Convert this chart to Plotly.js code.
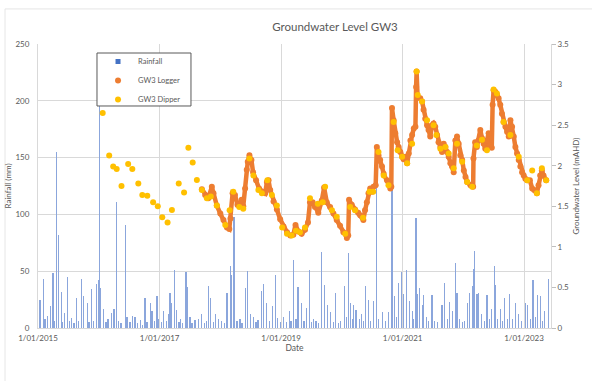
<!DOCTYPE html>
<html>
<head>
<meta charset="utf-8">
<script src="https://cdn.plot.ly/plotly-3.0.1.min.js"></script>
<style>html,body{margin:0;padding:0;background:#fff;}#chart{width:592px;height:381px;}</style>
</head>
<body>
<div id="chart"></div>
<script>
// Rainfall (mm), daily events
const rainDates = ["2015-01-13","2015-02-02","2015-02-12","2015-02-28","2015-03-16","2015-04-01","2015-04-12","2015-04-22","2015-05-02","2015-05-22","2015-05-30","2015-06-11","2015-06-29","2015-07-11","2015-07-21","2015-08-05","2015-08-21","2015-09-04","2015-09-20","2015-10-04","2015-10-24","2015-11-04","2015-11-20","2015-12-03","2015-12-20","2015-12-29",
"2016-01-05","2016-01-13","2016-01-29","2016-02-14","2016-02-26","2016-03-19","2016-04-02","2016-04-18","2016-05-01","2016-05-14","2016-06-08","2016-06-19","2016-07-07","2016-07-21","2016-08-06","2016-08-19","2016-09-06","2016-09-18","2016-10-05","2016-10-17","2016-11-05","2016-11-16","2016-11-29","2016-12-16","2016-12-23",
"2017-01-10","2017-01-25","2017-02-10","2017-02-24","2017-03-05","2017-03-15","2017-03-31","2017-04-14","2017-04-28","2017-05-09","2017-05-21","2017-06-09","2017-06-19","2017-07-03","2017-07-15","2017-08-02","2017-08-22","2017-09-12","2017-09-26","2017-10-08","2017-10-21","2017-11-01","2017-11-19","2017-12-05","2017-12-21",
"2018-01-10","2018-01-25","2018-02-10","2018-03-01","2018-03-11","2018-03-24","2018-04-11","2018-04-29","2018-05-11","2018-05-30","2018-06-15","2018-06-29","2018-07-19","2018-08-04","2018-08-16","2018-09-04","2018-09-18","2018-10-08","2018-10-22","2018-11-11","2018-11-27","2018-12-09","2018-12-27",
"2019-01-16","2019-02-02","2019-02-19","2019-03-02","2019-03-16","2019-04-01","2019-04-13","2019-05-05","2019-05-19","2019-06-04","2019-06-20","2019-07-01","2019-07-14","2019-07-30","2019-08-12","2019-08-30","2019-09-19","2019-10-09","2019-10-27","2019-11-11","2019-11-26","2019-12-11","2019-12-23",
"2020-01-18","2020-01-28","2020-02-11","2020-02-21","2020-03-04","2020-03-11","2020-03-27","2020-04-15","2020-04-30","2020-05-09","2020-05-24","2020-06-10","2020-06-20","2020-07-09","2020-07-26","2020-08-08","2020-08-31","2020-09-19","2020-10-08","2020-10-29","2020-11-12","2020-11-24","2020-12-08","2020-12-24",
"2021-01-07","2021-01-24","2021-02-13","2021-02-27","2021-03-06","2021-03-22","2021-03-30","2021-04-11","2021-04-29","2021-05-07","2021-05-23","2021-06-04","2021-06-27","2021-07-10","2021-07-28","2021-08-26","2021-09-11","2021-09-27","2021-10-11","2021-10-27","2021-11-14","2021-11-24","2021-12-08","2021-12-25",
"2022-01-08","2022-01-24","2022-02-09","2022-02-23","2022-03-04","2022-03-10","2022-03-24","2022-04-03","2022-04-19","2022-05-07","2022-05-23","2022-06-06","2022-06-18","2022-07-06","2022-07-12","2022-07-24","2022-08-11","2022-08-23","2022-09-04","2022-09-23","2022-10-06","2022-10-23","2022-11-09","2022-11-29","2022-12-16",
"2023-01-09","2023-01-23","2023-02-09","2023-02-24","2023-03-09","2023-03-23","2023-04-12","2023-04-20","2023-05-04","2023-05-28"];
const rainMm = [25,43,8,11,19,48,6,155,82,32,5,13,45,6,9,4,26,6,43,28,22,5,34,6,39,42,
200,35,17,5,8,13,17,111,6,4,91,10,5,11,10,4,7,3,26,5,22,15,6,28,8,
5,15,6,12,31,22,51,16,5,8,4,49,36,10,4,7,8,12,4,6,37,26,5,12,8,
6,4,31,55,47,98,6,8,4,35,50,12,10,5,7,33,39,22,6,19,47,9,5,
10,5,15,6,60,8,36,22,6,18,51,5,8,6,4,67,38,20,14,5,31,4,6,
37,10,66,22,8,20,16,8,12,6,37,25,6,24,133,8,14,6,14,133,28,10,40,49,
30,51,24,15,8,97,30,35,20,29,10,6,29,6,5,20,40,8,23,15,57,31,8,5,
6,22,31,37,52,68,30,31,12,6,29,8,17,55,38,8,17,6,26,8,30,8,22,12,6,
22,20,8,42,10,29,28,6,15,43];

// GW3 Logger (mAHD)
const loggerDates = ["2017-09-12","2017-10-02","2017-10-21","2017-11-11","2017-11-21","2017-12-11","2018-01-01","2018-01-20","2018-02-10","2018-02-24","2018-03-03","2018-03-16","2018-03-30","2018-04-14","2018-04-29","2018-05-09","2018-05-19","2018-05-30","2018-06-09","2018-06-15","2018-06-25","2018-07-07","2018-07-17","2018-08-04","2018-08-22","2018-09-13","2018-09-28","2018-10-08","2018-10-18","2018-10-28","2018-11-17","2018-12-07","2018-12-27",
"2019-01-16","2019-02-06","2019-02-26","2019-03-16","2019-03-29","2019-04-15","2019-05-05","2019-05-25","2019-06-12","2019-06-24","2019-07-10","2019-07-24","2019-08-13","2019-09-03","2019-09-17","2019-10-03","2019-10-23","2019-11-12","2019-12-02","2019-12-22",
"2020-01-11","2020-02-01","2020-02-09","2020-02-14","2020-03-01","2020-03-21","2020-04-09","2020-04-21","2020-05-10","2020-05-20","2020-05-31","2020-06-10","2020-06-20","2020-07-01","2020-07-10","2020-07-23","2020-07-30","2020-08-09","2020-08-19","2020-08-30","2020-09-09","2020-09-29","2020-10-19","2020-10-25","2020-10-29","2020-11-08","2020-11-18","2020-11-29","2020-12-08","2020-12-18","2020-12-29",
"2021-01-07","2021-01-18","2021-01-28","2021-02-07","2021-02-17","2021-02-27","2021-03-09","2021-03-19","2021-03-23","2021-03-26","2021-04-01","2021-04-17","2021-04-28","2021-05-07","2021-05-17","2021-05-28","2021-06-06","2021-06-16","2021-06-27","2021-07-06","2021-07-16","2021-07-27","2021-08-05","2021-08-16","2021-08-26","2021-09-05","2021-09-15","2021-09-25","2021-10-05","2021-10-15","2021-10-25","2021-11-04","2021-11-14","2021-11-24","2021-12-04","2021-12-14","2021-12-25",
"2022-01-04","2022-01-14","2022-01-24","2022-02-13","2022-03-01","2022-03-03","2022-03-13","2022-03-23","2022-04-02","2022-04-13","2022-04-23","2022-05-03","2022-05-13","2022-05-23","2022-06-02","2022-06-12","2022-06-21","2022-06-26","2022-07-02","2022-07-12","2022-07-22","2022-08-01","2022-08-11","2022-08-21","2022-08-31","2022-09-11","2022-09-21","2022-10-01","2022-10-11","2022-10-21","2022-10-31","2022-11-10","2022-11-20","2022-11-30","2022-12-10","2022-12-20","2022-12-30",
"2023-01-09","2023-01-20","2023-02-05","2023-02-19","2023-03-03","2023-03-19","2023-03-29","2023-04-08","2023-04-18","2023-04-28","2023-05-14"];
const loggerLevel = [1.71,1.64,1.60,1.74,1.66,1.51,1.41,1.33,1.24,1.22,1.35,1.66,1.64,1.52,1.53,1.58,1.50,1.72,1.95,2.05,2.13,2.07,1.92,1.82,1.72,1.68,1.66,1.80,1.82,1.70,1.56,1.46,1.34,
1.25,1.18,1.14,1.15,1.27,1.19,1.16,1.21,1.30,1.55,1.55,1.49,1.42,1.57,1.73,1.55,1.49,1.41,1.33,1.26,
1.18,1.11,1.14,1.58,1.52,1.46,1.42,1.39,1.33,1.45,1.55,1.66,1.72,1.68,1.74,1.76,2.23,2.13,2.07,1.99,1.90,1.82,1.72,1.74,2.71,2.56,2.40,2.29,2.23,2.17,2.11,
2.08,2.11,2.03,2.15,2.31,2.38,2.46,2.48,2.97,3.16,2.85,2.83,2.79,2.69,2.58,2.50,2.44,2.36,2.50,2.52,2.48,2.38,2.29,2.23,2.17,2.27,2.23,2.17,2.11,2.03,1.99,1.92,2.31,2.36,2.27,2.13,2.07,
1.94,1.86,1.80,1.76,1.74,2.09,2.29,2.23,2.31,2.44,2.34,2.27,2.21,2.31,2.40,2.25,2.22,2.75,2.93,2.91,2.87,2.83,2.75,2.64,2.54,2.48,2.42,2.36,2.56,2.48,2.36,2.23,2.15,2.07,1.99,1.92,1.88,
1.84,1.82,1.82,1.72,1.70,1.66,1.76,1.88,1.94,1.88,1.82];

// GW3 Dipper (mAHD)
const dipperDates = ["2016-01-25","2016-03-04","2016-03-28","2016-04-18","2016-05-17","2016-06-26","2016-07-21","2016-08-26","2016-09-19","2016-10-19","2016-11-23","2016-12-21",
"2017-01-17","2017-02-18","2017-03-16","2017-04-26","2017-05-28","2017-06-23","2017-07-19","2017-08-13","2017-09-12","2017-10-12","2017-11-05","2017-12-11",
"2018-01-31","2018-02-26","2018-03-20","2018-04-25","2018-05-19","2018-06-25","2018-07-19","2018-08-18","2018-09-08","2018-10-11","2018-11-07","2018-12-07",
"2019-01-08","2019-02-06","2019-03-06","2019-04-01","2019-04-25","2019-05-25","2019-06-24","2019-08-10","2019-09-09","2019-09-23","2019-11-03","2019-12-02",
"2020-01-22","2020-02-21","2020-03-21","2020-05-08","2020-06-16","2020-07-08","2020-08-09","2020-09-09","2020-10-08","2020-11-08","2020-12-02","2020-12-29",
"2021-01-28","2021-02-27","2021-03-26","2021-04-02","2021-04-28","2021-05-28","2021-07-06","2021-07-23","2021-08-16","2021-09-15","2021-10-05","2021-11-04","2021-11-24","2021-12-25",
"2022-01-24","2022-02-23","2022-03-23","2022-04-23","2022-05-23","2022-07-02","2022-07-22","2022-08-31","2022-10-11","2022-11-30",
"2023-01-20","2023-02-19","2023-03-19","2023-04-18","2023-05-14"];
const dipperLevel = [2.65,2.125,1.99,1.96,1.75,2.02,1.96,1.78,1.64,1.63,1.55,1.50,
1.365,1.30,1.455,1.78,1.67,2.22,2.04,1.825,1.70,1.60,1.62,1.51,
1.27,1.45,1.68,1.49,1.47,2.09,1.88,1.70,1.66,1.82,1.64,1.51,
1.24,1.16,1.14,1.20,1.18,1.24,1.60,1.53,1.55,1.74,1.45,1.37,
1.16,1.49,1.45,1.36,1.68,1.68,2.17,1.88,1.76,2.54,2.19,2.11,
2.03,2.27,3.16,2.87,2.79,2.56,2.50,2.38,2.21,2.23,2.15,1.97,2.27,2.05,
1.80,1.74,2.25,2.32,2.19,2.94,2.89,2.54,2.38,2.11,
1.82,1.94,1.66,1.97,1.82];

const seriesNames = ["Rainfall", "GW3 Logger", "GW3 Dipper"];
const xTickVals = ["2015-01-01","2017-01-01","2019-01-01","2021-01-01","2023-01-01"];

const FONT = 'Lato, "Open Sans", sans-serif';
const GREY = '#595959';
const BLUE = '#8ba6dc';
const ORANGE = '#ED7D31';
const YELLOW = '#FFC000';

const traces = [
  {type:'bar', x: rainDates, y: rainMm, width: 86400000, marker:{color: BLUE, line:{width:0}}, showlegend:false, yaxis:'y', hoverinfo:'skip'},
  {type:'scatter', mode:'markers', x:[null], y:[null], name: seriesNames[0], marker:{symbol:'square', size:5, color:'#4472C4'}, yaxis:'y'},
  {type:'scatter', mode:'lines+markers', x: loggerDates, y: loggerLevel, line:{color: ORANGE, width:4.5}, marker:{color: ORANGE, size:6}, showlegend:false, yaxis:'y2', hoverinfo:'skip'},
  {type:'scatter', mode:'markers', x:[null], y:[null], name: seriesNames[1], marker:{size:6, color: ORANGE}, yaxis:'y2'},
  {type:'scatter', mode:'markers', x: dipperDates, y: dipperLevel, name: seriesNames[2], marker:{size:6, color: YELLOW}, yaxis:'y2'}
];

const layout = {
  width: 592, height: 381,
  margin: {l:38, r:41, t:44, b:53, pad:0},
  paper_bgcolor:'#ffffff', plot_bgcolor:'#ffffff',
  font:{family: FONT, color: GREY, size: 8},
  title:{text:'Groundwater Level GW3', font:{family: FONT, size:11.5, color: GREY}, x: 335/592, xref:'container', xanchor:'center', y: 1 - 27/381, yref:'container', yanchor:'middle'},
  showlegend:true,
  legend:{x:0.117, y:0.9894, xanchor:'left', yanchor:'top', bgcolor:'rgba(0,0,0,0)', borderwidth:0, font:{family: FONT, size:7.5, color: GREY}, tracegroupgap:0, itemwidth:30, traceorder:'normal'},
  bargap:0,
  xaxis:{type:'date', range:['2015-01-01','2023-06-12'], tickvals: xTickVals, tickformat:'%-d/%m/%Y', showgrid:true, gridcolor:'#d9d9d9', gridwidth:1, showline:true, linecolor:'#d9d9d9', linewidth:1, zeroline:false, ticks:'', ticklabelstandoff:2, tickfont:{family: FONT, size:8, color: GREY}, title:{text:'Date', font:{family: FONT, size:8.5, color: GREY}, standoff:3}, automargin:false},
  yaxis:{range:[0,250], dtick:50, showgrid:true, gridcolor:'#d9d9d9', gridwidth:1, zeroline:false, showline:true, linecolor:'#d9d9d9', ticks:'', ticklabelstandoff:6, tickfont:{family: FONT, size:8, color: GREY}, title:{text:'Rainfall (mm)', font:{family: FONT, size:8, color: GREY}, standoff:2}, automargin:false},
  yaxis2:{overlaying:'y', side:'right', range:[0,3.5], dtick:0.5, showgrid:false, zeroline:false, showline:true, linecolor:'#d9d9d9', ticks:'outside', ticklen:4, tickcolor:'#bfbfbf', tickfont:{family: FONT, size:8, color: GREY}, title:{text:'Groundwater Level (mAHD)', font:{family: FONT, size:8, color: GREY}, standoff:5}, automargin:false},
  shapes:[
    {type:'rect', xref:'paper', yref:'paper', x0:0.115, x1:0.2982, y0:0.7817, y1:0.9683, fillcolor:'#ffffff', line:{color:'#595959', width:1}, layer:'above'},
    {type:'line', xref:'paper', yref:'paper', x0:-0.0643, x1:-0.0643, y0:-0.19, y1:1.1235, line:{color:'#e6e6e6', width:1}},
    {type:'line', xref:'paper', yref:'paper', x0:-0.0643, x1:1.08, y0:1.1235, y1:1.1235, line:{color:'#e6e6e6', width:1}}
  ]
};

Plotly.newPlot('chart', traces, layout, {displayModeBar:false});
</script>
</body>
</html>
